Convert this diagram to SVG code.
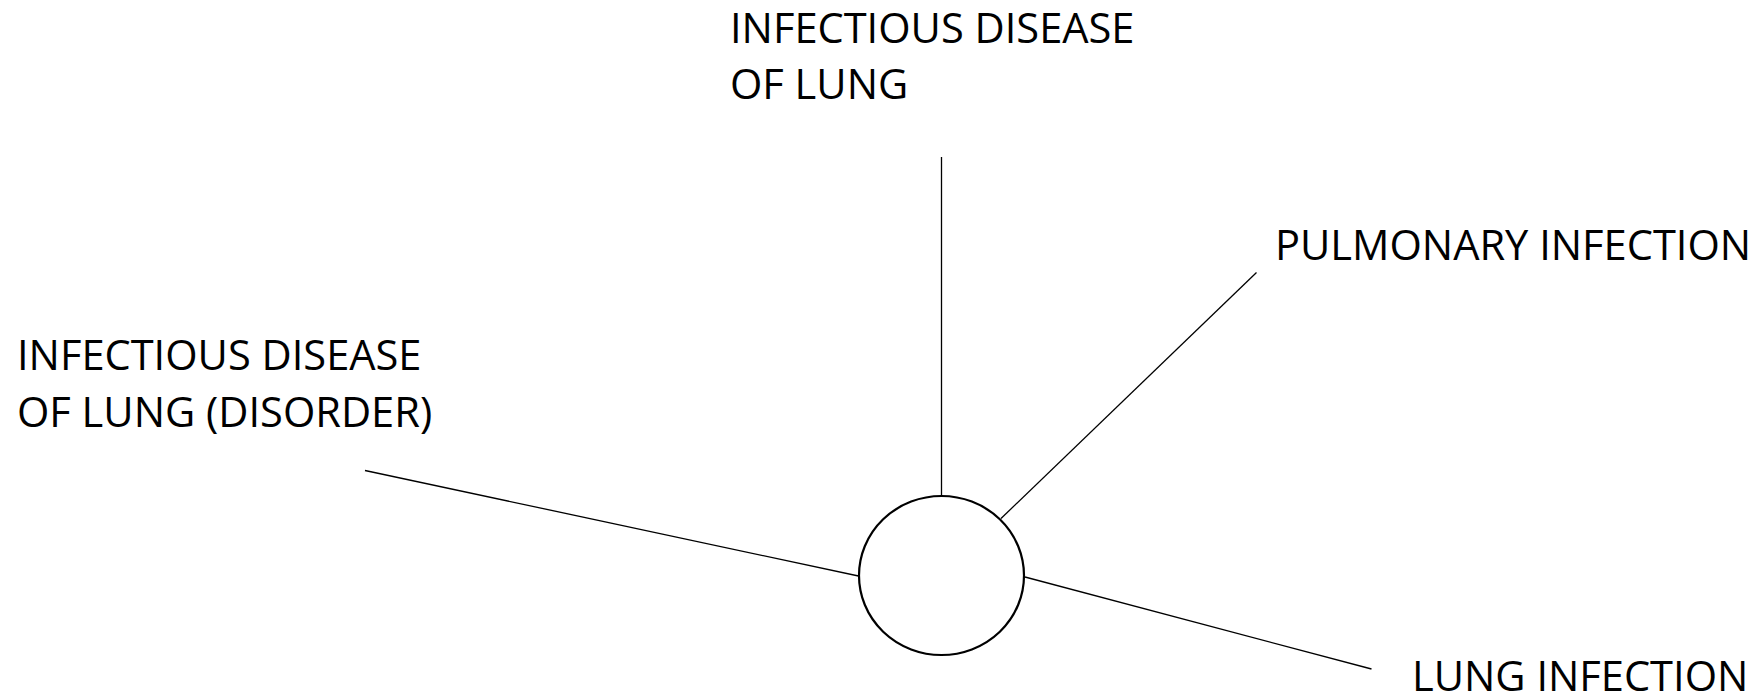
<svg xmlns="http://www.w3.org/2000/svg" width="1760" height="697" viewBox="0 0 1760 697">
<style>
.lbl{font-family:"Open Sans","Liberation Sans",sans-serif;font-size:41.6px;fill:#000}
.edge{stroke:#000;stroke-width:1.3;fill:none}
</style>
<rect width="1760" height="697" fill="#fff"/>
<g id="connectors">
<line class="edge" x1="941.5" y1="157" x2="941.5" y2="496"/>
<line class="edge" x1="1256.5" y1="272.5" x2="1001" y2="518.5"/>
<line class="edge" x1="365" y1="470.5" x2="858.5" y2="576"/>
<line class="edge" x1="1025" y1="577" x2="1371.5" y2="669"/>
</g>
<g id="center">
<ellipse cx="941.5" cy="575.5" rx="82.5" ry="79.5" fill="#fff" stroke="#000" stroke-width="2.2"/>
</g>
<g id="n-infectious-disease-of-lung">
<text class="lbl" x="730" y="43">INFECTIOUS DISEASE</text>
<text class="lbl" x="730" y="99">OF LUNG</text>
</g>
<g id="n-pulmonary-infection">
<text class="lbl" x="1275" y="260">PULMONARY INFECTION</text>
</g>
<g id="n-infectious-disease-of-lung-disorder">
<text class="lbl" x="17" y="370">INFECTIOUS DISEASE</text>
<text class="lbl" x="17" y="427">OF LUNG (DISORDER)</text>
</g>
<g id="n-lung-infection">
<text class="lbl" x="1412" y="691">LUNG INFECTION</text>
</g>
</svg>
